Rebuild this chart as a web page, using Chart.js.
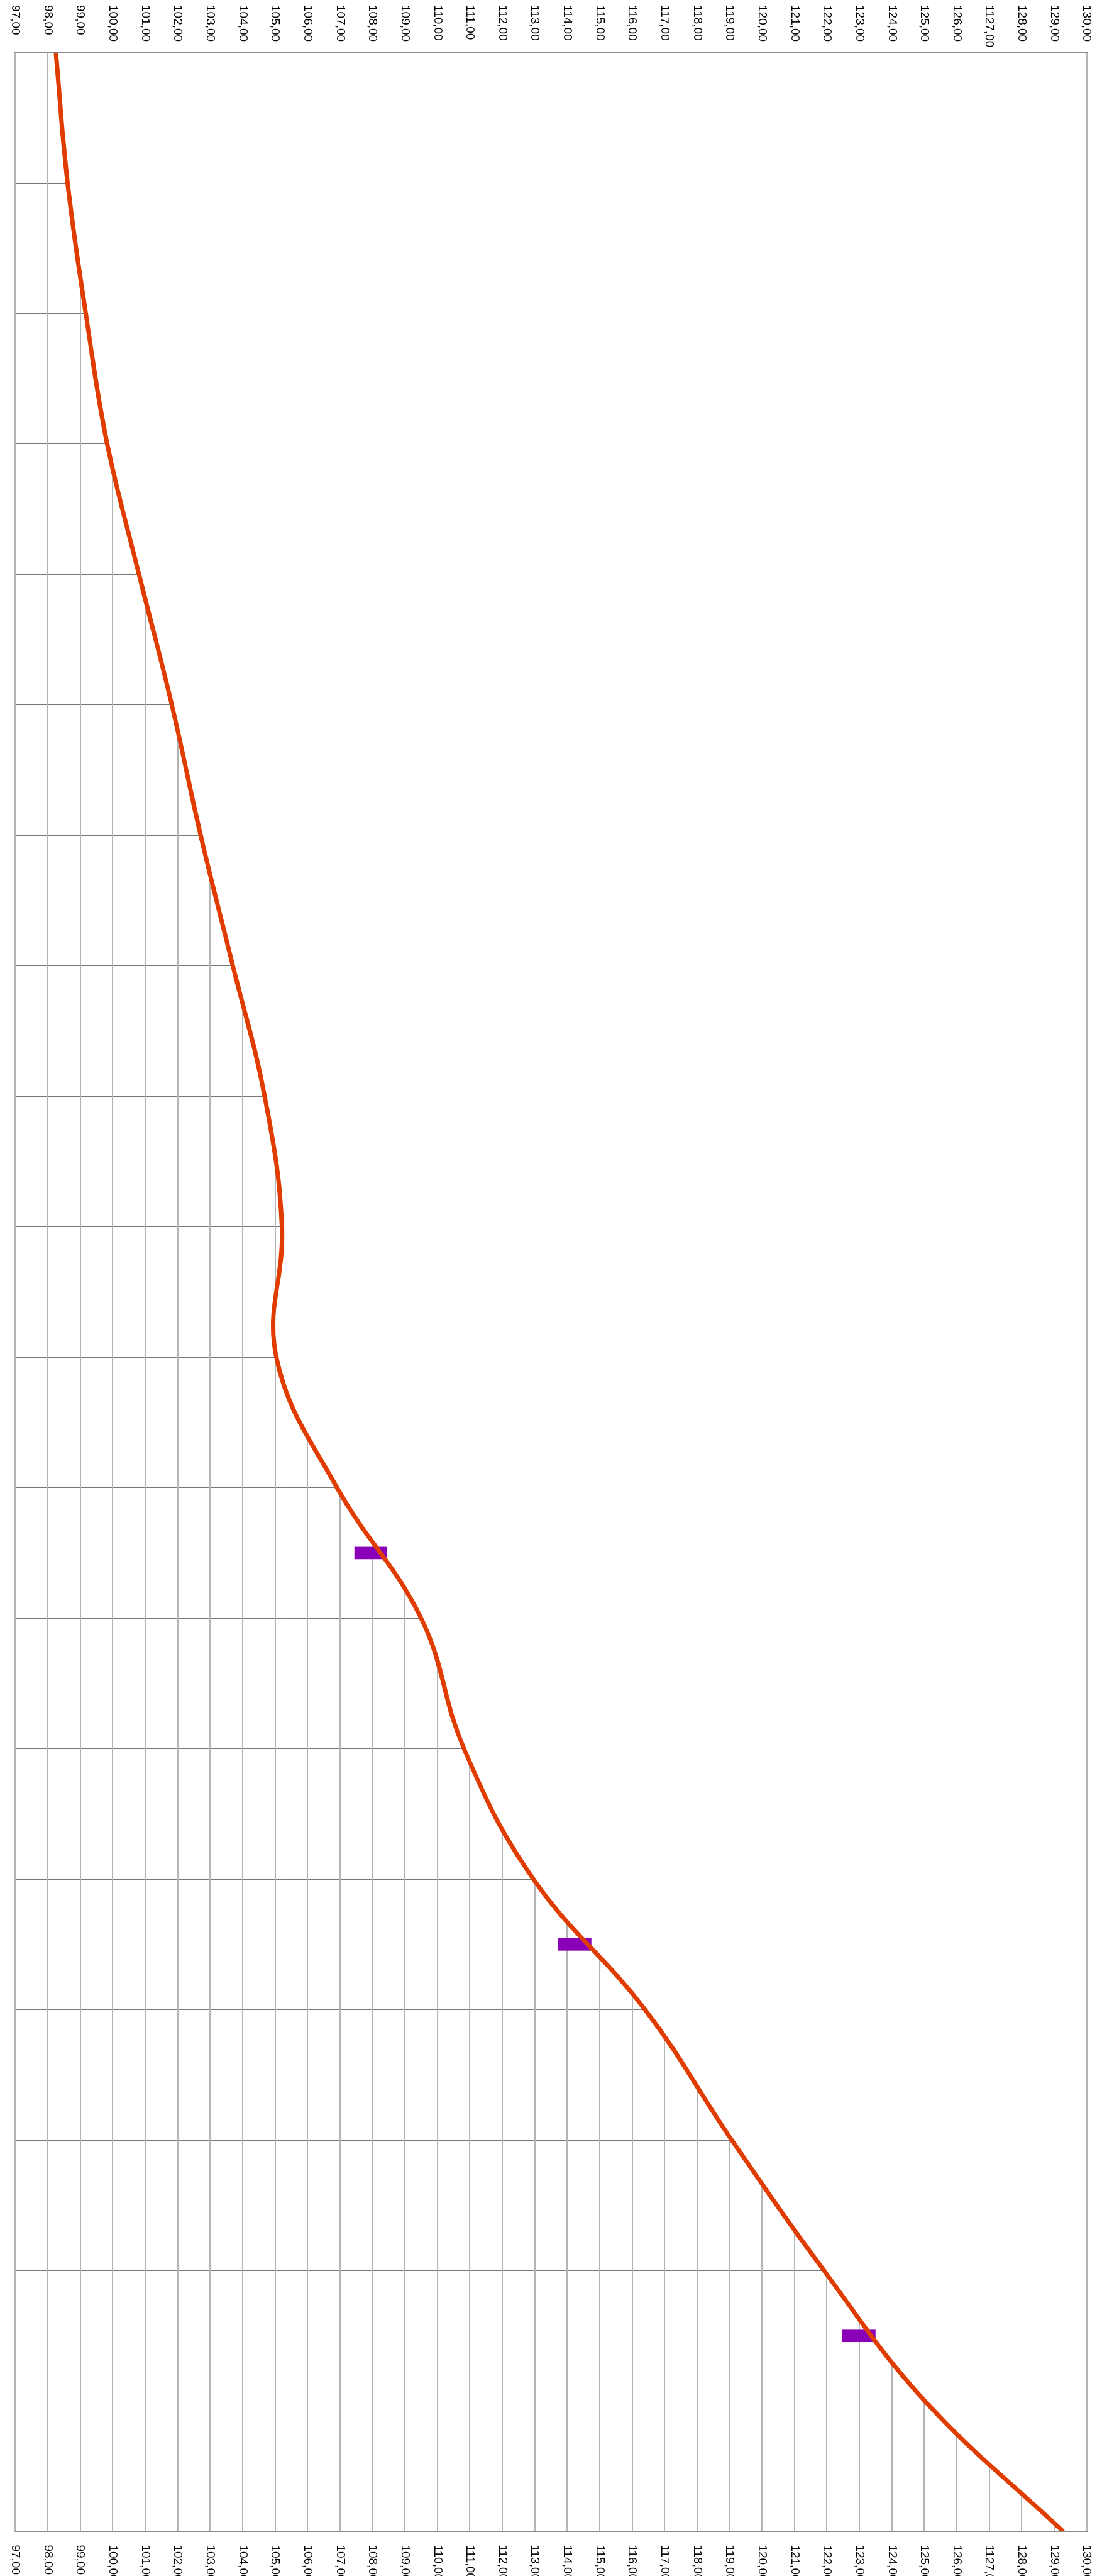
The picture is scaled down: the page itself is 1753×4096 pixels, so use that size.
<!DOCTYPE html>
<html>
<head>
<meta charset="utf-8">
<script src="https://cdn.jsdelivr.net/npm/chart.js@4/dist/chart.umd.min.js"></script>
<style>
  html, body { margin: 0; padding: 0; background: #fff; overflow: hidden; }
  #wrap { position: relative; width: 1753px; height: 4096px; }
  /* chart is drawn lying down and turned a quarter clockwise */
  #chart {
    position: absolute; left: 0; top: 0;
    transform-origin: 0 0;
    transform: translate(1753px, 0) rotate(90deg);
  }
</style>
</head>
<body>
<div id="wrap"><canvas id="chart" width="4096" height="1753"></canvas></div>
<script>
// rows of the grid, top to bottom
const rows = [0, 1, 2, 3, 4, 5, 6, 7, 8, 9, 10, 11, 12, 13, 14, 15, 16, 17, 18, 19];
// curve value at each row
const values = [98.25, 98.61, 99.17, 99.83, 100.81, 101.82, 102.71, 103.70, 104.68, 105.21,
                105.04, 106.91, 109.50, 110.82, 112.96, 116.40, 119.07, 121.91, 125.02, 129.28];

// purple markers (row position, low, high)
const markerRows = [11.5, 14.5, 17.5];
const markerLow = [107.45, 113.72, 122.47];
const markerHigh = [108.45, 114.74, 123.49];

// value axis
const valueMin = 97;
const valueMax = 130;
const tickLabels = ['97,00', '98,00', '99,00', '100,00', '101,00', '102,00', '103,00', '104,00',
  '105,00', '106,00', '107,00', '108,00', '109,00', '110,00', '111,00', '112,00', '113,00',
  '114,00', '115,00', '116,00', '117,00', '118,00', '119,00', '120,00', '121,00', '122,00',
  '123,00', '124,00', '125,00', '126,00', '1127,00', '128,00', '129,00', '130,00'];

const tickFont = { family: "'Liberation Sans', Arial, sans-serif", size: 19 };

const rowAxis = {
  type: 'linear',
  min: 0,
  max: 19,
  offset: false,
  ticks: { display: false, stepSize: 1 }
};

new Chart(document.getElementById('chart'), {
  type: 'line',
  data: {
    datasets: [
      {
        data: rows.map((r, i) => ({ x: r, y: values[i] })),
        borderColor: '#e03c00',
        borderWidth: 7,
        backgroundColor: '#ffffff',
        fill: 'end',
        tension: 0.4,
        pointRadius: 0,
        xAxisID: 'x',
        yAxisID: 'y'
      },
      {
        type: 'bar',
        data: markerRows.map((r, i) => ({ x: r, y: [markerLow[i], markerHigh[i]] })),
        backgroundColor: '#8a00b8',
        borderWidth: 0,
        barThickness: 19,
        xAxisID: 'x',
        yAxisID: 'y'
      }
    ]
  },
  options: {
    responsive: false,
    animation: false,
    devicePixelRatio: 1,
    layout: { padding: { left: 8, right: 0, top: 0, bottom: 0 } },
    plugins: {
      legend: { display: false },
      tooltip: { enabled: false },
      filler: { drawTime: 'beforeDatasetsDraw' }
    },
    scales: {
      x: {
        ...rowAxis,
        position: 'bottom',
        grid: { color: '#777777', lineWidth: 1, drawTicks: false, offset: false },
        border: { display: true, color: '#b4b4b4', width: 2, z: 1 },
        afterFit: s => { s.height = 20.6; }
      },
      xTop: {
        ...rowAxis,
        position: 'top',
        grid: { display: false },
        border: { display: true, color: '#b4b4b4', width: 2, z: 1 },
        afterFit: s => { s.height = 24; }
      },
      y: {
        type: 'linear',
        position: 'left',
        min: valueMin,
        max: valueMax,
        beginAtZero: false,
        grid: { color: '#b4b4b4', lineWidth: 2, drawTicks: false },
        border: { display: true, color: '#8a8a8a', width: 2, z: 1 },
        ticks: {
          stepSize: 1,
          autoSkip: false,
          crossAlign: 'far',
          color: '#000',
          font: tickFont,
          callback: (v, i) => tickLabels[i]
        },
        afterFit: s => { s.width = 75.6; }
      },
      yRight: {
        type: 'linear',
        position: 'right',
        min: valueMin,
        max: valueMax,
        grid: { display: false },
        border: { display: true, color: '#8a8a8a', width: 2, z: 1 },
        ticks: {
          stepSize: 1,
          autoSkip: false,
          padding: 13,
          color: '#000',
          font: tickFont,
          callback: (v, i) => tickLabels[i]
        },
        afterFit: s => { s.width = 70.6; }
      }
    }
  }
});
</script>
</body>
</html>
